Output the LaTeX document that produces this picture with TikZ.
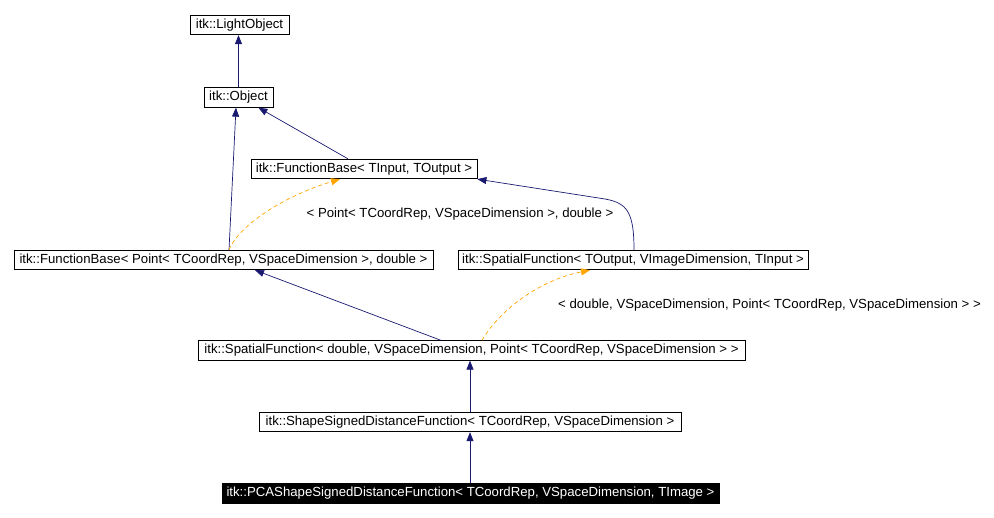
\documentclass[tikz,border=0pt]{standalone}
\usepackage{fontspec}
\setmainfont{Liberation Sans}
\usetikzlibrary{arrows.meta}
\definecolor{edgeblue}{RGB}{25,25,112}
\definecolor{edgeorange}{RGB}{255,165,0}
\begin{document}
\begin{tikzpicture}[x=1pt,y=-1pt,
  cls/.style={draw=black,line width=0.8pt,fill=white,inner sep=0pt,minimum height=19.5pt,font=\fontsize{13.2}{15}\selectfont},
  cur/.style={cls,fill=black,text=white},
  inh/.style={draw=edgeblue,line width=0.7pt,-{Triangle[length=9pt,width=7pt]}},
  tpl/.style={draw=edgeorange,line width=0.7pt,dash pattern=on 4pt off 3pt,-{Triangle[length=9pt,width=7pt]}},
  lbl/.style={inner sep=0pt,font=\fontsize{13.2}{15}\selectfont}]
\useasboundingbox (0,0) rectangle (994,518);
\node[cls,minimum width=99pt] (lo) at (239.5,25) {itk::LightObject};
\node[cls,minimum width=69pt] (obj) at (238.5,97.5) {itk::Object};
\node[cls,minimum width=226pt] (fbt) at (364,169) {itk::FunctionBase< TInput, TOutput >};
\node[cls,minimum width=419pt] (fbp) at (223.5,260) {itk::FunctionBase< Point< TCoordRep, VSpaceDimension >, double >};
\node[cls,minimum width=350pt] (sft) at (633,260) {itk::SpatialFunction< TOutput, VImageDimension, TInput >};
\node[cls,minimum width=547pt] (sfd) at (471.5,350.5) {itk::SpatialFunction< double, VSpaceDimension, Point< TCoordRep, VSpaceDimension > >};
\node[cls,minimum width=422pt] (ssd) at (470,422) {itk::ShapeSignedDistanceFunction< TCoordRep, VSpaceDimension >};
\node[cur,minimum width=497pt] (pca) at (470.5,493.5) {itk::PCAShapeSignedDistanceFunction< TCoordRep, VSpaceDimension, TImage >};
\node[lbl] (l1) at (460,214) {< Point< TCoordRep, VSpaceDimension >, double >};
\node[lbl] (l2) at (769.5,305) {< double, VSpaceDimension, Point< TCoordRep, VSpaceDimension > >};
\coordinate (bend) at (605,199);
\draw[inh] (obj.north) -- (obj.north |- lo.south);
\draw[inh] ([xshift=5.5pt]fbp.north) -- ([xshift=-2.5pt]obj.south);
\draw[inh] ([xshift=-16pt]fbt.north) -- ([xshift=-15pt]obj.south east);
\draw[tpl] ([xshift=5.5pt]fbp.north) .. controls +(12,-28) and +(-50,15) .. ([xshift=-24pt]fbt.south);
\draw[inh] ([xshift=1pt]sft.north) .. controls +(0,-38) and +(22,4) .. (bend) -- (fbt.south east);
\draw[inh] ([xshift=-30.5pt]sfd.north) -- ([xshift=31.5pt]fbp.south);
\draw[tpl] ([xshift=10.5pt]sfd.north) .. controls +(18,-31) and +(-50,10) .. ([xshift=-43pt]sft.south);
\draw[inh] (ssd.north) -- (ssd.north |- sfd.south);
\draw[inh] (ssd.south |- pca.north) -- (ssd.south);
\end{tikzpicture}
\end{document}
